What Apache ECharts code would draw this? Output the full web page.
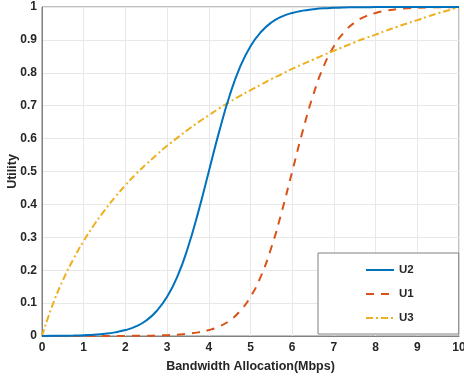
<!DOCTYPE html>
<html>
<head>
<meta charset="utf-8">
<script src="https://cdn.jsdelivr.net/npm/echarts@6/dist/echarts.min.js"></script>
<style>html,body{margin:0;padding:0;background:#fff}#c{width:464px;height:378px}</style>
</head>
<body>
<div id="c"></div>
<script>
const xs = [0,0.25,0.5,0.75,1,1.25,1.5,1.75,2,2.25,2.5,2.75,3,3.25,3.5,3.75,4,4.25,4.5,4.75,5,5.25,5.5,5.75,6,6.25,6.5,6.75,7,7.25,7.5,7.75,8,8.25,8.5,8.75,9,9.25,9.5,9.75,10];
const u2 = [0.0003,0.0006,0.0009,0.0015,0.0025,0.0041,0.0067,0.011,0.018,0.029,0.047,0.076,0.119,0.182,0.269,0.378,0.5,0.622,0.731,0.818,0.881,0.924,0.953,0.971,0.982,0.989,0.993,0.996,0.9975,0.9985,0.9991,0.9994,0.9997,0.9998,0.9999,0.9999,1,1,1,1,1];
const u1 = [0,0,0,0,0,0,0.0001,0.0001,0.0003,0.0006,0.0009,0.0015,0.0025,0.0041,0.0067,0.011,0.018,0.029,0.047,0.076,0.119,0.182,0.269,0.378,0.5,0.622,0.731,0.818,0.881,0.924,0.953,0.971,0.982,0.989,0.993,0.996,0.9975,0.9985,0.9991,0.9994,0.9997];
const u3 = [0,0.093,0.169,0.233,0.289,0.338,0.382,0.422,0.458,0.492,0.522,0.551,0.578,0.603,0.627,0.650,0.671,0.692,0.711,0.730,0.747,0.764,0.781,0.796,0.812,0.826,0.840,0.854,0.867,0.880,0.893,0.905,0.916,0.928,0.939,0.950,0.960,0.971,0.981,0.990,1];
const xTicks = [0,1,2,3,4,5,6,7,8,9,10];
const yTicks = [0,0.1,0.2,0.3,0.4,0.5,0.6,0.7,0.8,0.9,1];
const legendOrder = ['U2','U1','U3'];

const pairs = ys => xs.map((x,i)=>[x, ys[i]]);
const font = {fontFamily:'Liberation Sans, Arial, sans-serif', fontWeight:'bold', fontSize:12, color:'#262626'};
const chart = echarts.init(document.getElementById('c'), null, {renderer:'canvas'});
chart.setOption({
  animation:false,
  backgroundColor:'#fff',
  grid:{left:42,right:5,top:7,bottom:42,show:true,borderColor:'#808080',borderWidth:1,containLabel:false,outerBoundsMode:'none'},
  xAxis:{type:'value',min:0,max:10,interval:1,
    name:'Bandwidth Allocation(Mbps)',nameLocation:'middle',nameGap:24,nameMoveOverlap:false,nameTextStyle:Object.assign({},font,{fontSize:12.5}),
    axisLine:{show:true,lineStyle:{color:'#808080'}},axisTick:{show:false},
    axisLabel:Object.assign({margin:6,formatter:v=>xTicks.includes(v)?String(v):''},font),
    splitLine:{show:true,lineStyle:{color:'#e8e8e8',width:1}}},
  yAxis:{type:'value',min:0,max:1,interval:0.1,
    name:'Utility',nameLocation:'middle',nameGap:23,nameRotate:90,nameMoveOverlap:false,nameTextStyle:Object.assign({},font,{fontSize:12.5}),
    axisLine:{show:true,lineStyle:{color:'#808080'}},axisTick:{show:false},
    axisLabel:Object.assign({margin:5,formatter:v=>{const r=Math.round(v*10)/10;return yTicks.includes(r)?String(r):'';}},font),
    splitLine:{show:true,lineStyle:{color:'#e8e8e8',width:1}}},
  legend:{data:legendOrder,orient:'vertical',left:318,top:253,
    padding:[11,45,10,47],itemGap:12,itemWidth:28,itemHeight:14,
    borderColor:'#808080',borderWidth:1,backgroundColor:'#fff',
    itemStyle:{opacity:0},
    textStyle:Object.assign({},font,{fontSize:11.5})},
  series:[
    {name:'U2',type:'line',data:pairs(u2),smooth:true,symbol:'none',z:3,
      lineStyle:{color:'#0072BD',width:2},itemStyle:{color:'#0072BD'}},
    {name:'U1',type:'line',data:pairs(u1),smooth:true,symbol:'none',z:2,
      lineStyle:{color:'#D95319',width:2,type:[8,7]},itemStyle:{color:'#D95319'}},
    {name:'U3',type:'line',data:pairs(u3),smooth:true,symbol:'none',z:2,
      lineStyle:{color:'#EDB120',width:2,type:[7,3,2,3]},itemStyle:{color:'#EDB120'}}
  ]
});
</script>
</body>
</html>
